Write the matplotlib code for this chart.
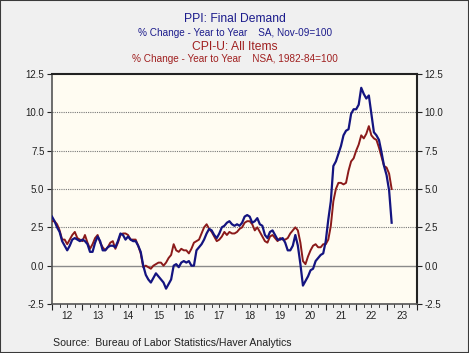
import numpy as np
import matplotlib
matplotlib.use("Agg")
import matplotlib.pyplot as plt
from matplotlib.ticker import MultipleLocator, FixedLocator, NullFormatter

plt.rcParams['font.family'] = ['Liberation Sans', 'DejaVu Sans']

# Monthly yoy % change, Jan 2012 - Mar 2023
ppi = [3.2, 2.9, 2.5, 2.2, 1.6, 1.3, 1.0, 1.3, 1.7, 1.8, 1.7, 1.6,
       1.7, 1.6, 1.4, 0.9, 0.9, 1.5, 1.9, 1.6, 1.0, 1.0, 1.2, 1.3,
       1.3, 1.2, 1.6, 2.1, 2.0, 1.7, 1.9, 1.7, 1.6, 1.6, 1.3, 0.9,
       0.0, -0.6, -0.9, -1.1, -0.8, -0.5, -0.7, -0.9, -1.1, -1.5, -1.2, -0.9,
       0.0, 0.1, -0.1, 0.2, 0.3, 0.2, 0.3, 0.0, 0.0, 1.0, 1.2, 1.4,
       1.7, 2.1, 2.4, 2.3, 2.0, 1.8, 2.1, 2.5, 2.6, 2.8, 2.9, 2.7,
       2.6, 2.7, 2.6, 2.8, 3.2, 3.3, 3.2, 2.8, 2.9, 3.1, 2.7, 2.6,
       2.0, 1.8, 2.2, 2.3, 2.0, 1.7, 1.7, 1.8, 1.5, 1.0, 1.0, 1.3,
       2.0, 1.3, 0.1, -1.3, -1.0, -0.7, -0.3, -0.2, 0.3, 0.5, 0.7, 0.8,
       1.6, 3.0, 4.2, 6.5, 6.8, 7.3, 7.8, 8.5, 8.8, 8.9, 9.9, 10.2,
       10.2, 10.5, 11.6, 11.2, 10.9, 11.1, 9.9, 8.7, 8.5, 8.2, 7.4, 6.5,
       5.9, 4.9, 2.8]
cpi = [2.9, 2.9, 2.7, 2.3, 1.7, 1.7, 1.4, 1.7, 2.0, 2.2, 1.8, 1.7,
       1.6, 2.0, 1.5, 1.1, 1.4, 1.8, 2.0, 1.5, 1.2, 1.0, 1.2, 1.5,
       1.6, 1.1, 1.5, 2.0, 2.1, 2.1, 2.0, 1.7, 1.7, 1.7, 1.3, 0.8,
       -0.1, 0.0, -0.1, -0.2, 0.0, 0.1, 0.2, 0.2, 0.0, 0.2, 0.5, 0.7,
       1.4, 1.0, 0.9, 1.1, 1.0, 1.0, 0.8, 1.1, 1.5, 1.6, 1.7, 2.1,
       2.5, 2.7, 2.4, 2.2, 1.9, 1.6, 1.7, 1.9, 2.2, 2.0, 2.2, 2.1,
       2.1, 2.2, 2.4, 2.5, 2.8, 2.9, 2.9, 2.7, 2.3, 2.5, 2.2, 1.9,
       1.6, 1.5, 1.9, 2.0, 1.8, 1.6, 1.8, 1.7, 1.7, 1.8, 2.1, 2.3,
       2.5, 2.3, 1.5, 0.3, 0.1, 0.6, 1.0, 1.3, 1.4, 1.2, 1.2, 1.4,
       1.4, 1.7, 2.6, 4.2, 5.0, 5.4, 5.4, 5.3, 5.4, 6.2, 6.8, 7.0,
       7.5, 7.9, 8.5, 8.3, 8.6, 9.1, 8.5, 8.3, 8.2, 7.7, 7.1, 6.5,
       6.4, 6.0, 5.0]
years = list(range(2012, 2024))
year_labels = [str(y % 100) for y in years]

t = 2012 + np.arange(len(ppi)) / 12.0

fig = plt.figure(figsize=(4.69, 3.53), dpi=100, facecolor='#f0f0f0')
fig.patches.append(plt.Rectangle((0, 0), 1, 1, transform=fig.transFigure,
                                 fill=False, edgecolor='#3a3a3a', lw=1.5))
ax = fig.add_axes([52/469, 1-304/353, 365/469, 230/353])
ax.set_facecolor('#fffcf2')

for yv in [2.5, 5.0, 7.5, 10.0]:
    ax.axhline(yv, color='#777777', lw=0.8, ls=(0, (1, 1)), zorder=1)
ax.axhline(0, color='#8a8a8a', lw=1.0, zorder=1)

ax.plot(t, cpi, color='#8b1a1a', lw=1.4, zorder=3)
ax.plot(t, ppi, color='#141480', lw=1.6, zorder=4)

ax.set_xlim(2012, 2024)
ax.set_ylim(-2.5, 12.5)
ax.yaxis.set_major_locator(MultipleLocator(2.5))
ax.yaxis.set_major_formatter(plt.FuncFormatter(lambda v, p: f"{v:.1f}"))
ax.tick_params(axis='y', which='both', left=True, right=True, labelleft=True,
               labelright=True, direction='out', length=3.5, labelsize=7,
               colors='#222222', pad=2)
ax.xaxis.set_major_locator(FixedLocator(years + [2024]))
ax.xaxis.set_major_formatter(NullFormatter())
ax.xaxis.set_minor_locator(FixedLocator([y + 0.5 for y in years]))
ax.set_xticklabels(year_labels, minor=True)
ax.tick_params(axis='x', which='major', direction='out', length=4, color='#222222')
ax.tick_params(axis='x', which='minor', length=0, labelsize=7.2, pad=5, colors='#222222')
# quarterly small ticks
for y in years:
    for q in (0.25, 0.5, 0.75):
        ax.plot([y + q, y + q], [0, -0.012], transform=ax.get_xaxis_transform(),
                color='#222222', lw=0.6, clip_on=False)

for s in ['left', 'bottom']:
    ax.spines[s].set_color('#555555')
    ax.spines[s].set_linewidth(1.2)
for s in ['top', 'right']:
    ax.spines[s].set_color('#222222')
    ax.spines[s].set_linewidth(1.5)

fig.text(235/469, 1-19.5/353, "PPI: Final Demand", color='#1c1c8c', fontsize=8.7,
         ha='center', va='center')
fig.text(235/469, 1-32.5/353, "% Change - Year to Year    SA, Nov-09=100", color='#1c1c8c',
         fontsize=7.2, ha='center', va='center')
fig.text(235/469, 1-46.5/353, "CPI-U: All Items", color='#a02020', fontsize=8.7,
         ha='center', va='center')
fig.text(235/469, 1-58.5/353, "% Change - Year to Year    NSA, 1982-84=100", color='#a02020',
         fontsize=7.2, ha='center', va='center')
fig.text(53/469, 1-343/353, "Source:  Bureau of Labor Statistics/Haver Analytics",
         color='#222222', fontsize=7.6, ha='left', va='center')

fig.savefig("out.png", dpi=100, facecolor=fig.get_facecolor())
